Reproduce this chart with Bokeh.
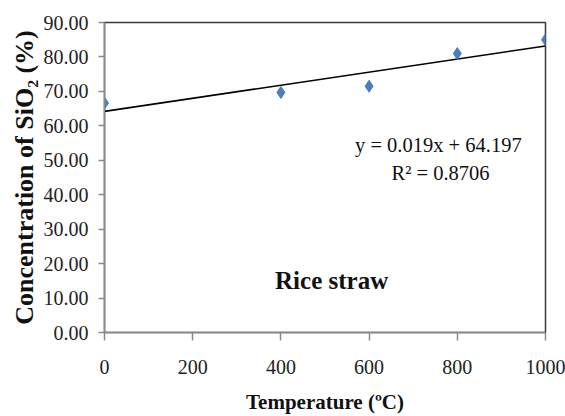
from bokeh.plotting import figure
from bokeh.models import Range1d, FixedTicker, PrintfTickFormatter, Label
from bokeh.embed import file_html
from bokeh.resources import INLINE

# Data
temperature = [0, 400, 600, 800, 1000]
sio2 = [66.6, 69.7, 71.5, 81.0, 85.0]
trend_slope = 0.019
trend_intercept = 64.197
x_ticks = [0, 200, 400, 600, 800, 1000]
y_ticks = [0, 10, 20, 30, 40, 50, 60, 70, 80, 90]
eq_text = "y = 0.019x + 64.197"
r2_text = "R\u00b2 = 0.8706"
series_name = "Rice straw"

FONT = "Liberation Serif"

p = figure(width=565, height=416, output_backend="svg", toolbar_location=None,
           x_range=Range1d(0, 1000), y_range=Range1d(0, 90),
           min_border_left=104, min_border_right=20, min_border_top=22, min_border_bottom=82)

p.xgrid.visible = False
p.ygrid.visible = False
p.outline_line_color = "#3a3a3a"
p.outline_line_width = 1.5
p.background_fill_color = "white"
p.border_fill_color = "white"

# trendline
xs = [0, 1000]
ys = [trend_intercept + trend_slope * x for x in xs]
p.line(xs, ys, line_color="black", line_width=1.6)

p.scatter(temperature, sio2, marker="diamond", size=12, fill_color="#4a7ebb", line_color="#4a7ebb")

for ax in (p.xaxis[0], p.yaxis[0]):
    ax.axis_line_color = "#8a8a8a"
    ax.axis_line_width = 1.5
    ax.major_tick_line_color = "#8a8a8a"
    ax.major_tick_line_width = 1.5
    ax.minor_tick_line_color = None
    ax.major_label_text_font = FONT
    ax.major_label_text_font_size = "20px"
    ax.major_label_text_color = "#222222"
    ax.axis_label_text_font = FONT
    ax.axis_label_text_font_style = "bold"
    ax.axis_label_text_color = "#111111"

p.xaxis.axis_label_text_font_size = "21px"
p.yaxis.axis_label_text_font_size = "26px"
p.xaxis.ticker = FixedTicker(ticks=x_ticks)
p.yaxis.ticker = FixedTicker(ticks=y_ticks)
p.yaxis.formatter = PrintfTickFormatter(format="%.2f")
p.xaxis.major_tick_in = 0
p.xaxis.major_tick_out = 8
p.yaxis.major_tick_in = 0
p.yaxis.major_tick_out = 6
p.xaxis.major_label_standoff = 19
p.yaxis.major_label_standoff = 10
p.xaxis.axis_label = "Temperature (\u00baC)"
p.yaxis.axis_label = "Concentration of SiO\u2082 (%)"
p.xaxis.axis_label_standoff = 13
p.yaxis.axis_label_standoff = 2

p.add_layout(Label(x=757, y=54.5, text=eq_text, text_font=FONT, text_font_size="20.5px",
                   text_align="center", text_baseline="middle", text_color="#111111"))
p.add_layout(Label(x=762, y=46.4, text=r2_text, text_font=FONT, text_font_size="20.5px",
                   text_align="center", text_baseline="middle", text_color="#111111"))
p.add_layout(Label(x=515, y=15.0, text=series_name, text_font=FONT, text_font_size="25px",
                   text_font_style="bold", text_align="center", text_baseline="middle",
                   text_color="#111111"))

open("out.html", "w").write(file_html(p, INLINE))
